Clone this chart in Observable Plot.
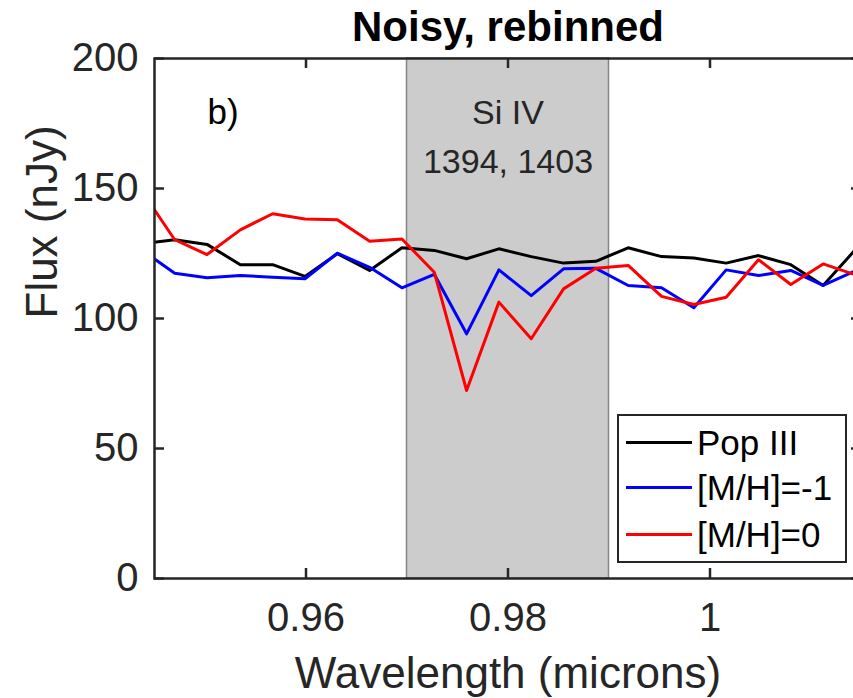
<!DOCTYPE html>
<html><head><meta charset="utf-8">
<script src="https://cdn.jsdelivr.net/npm/d3@7"></script>
<script src="https://cdn.jsdelivr.net/npm/@observablehq/plot@0.6"></script>
<style>
html,body{margin:0;padding:0;background:#fff;overflow:hidden;}
#wrap{position:relative;width:853px;height:698px;overflow:hidden;}
#wrap svg{max-width:none !important;}
#legend{position:absolute;left:617px;top:414px;width:230px;height:149px;box-sizing:border-box;border:2.5px solid #262626;background:#fff;font-family:"Liberation Sans",Arial,sans-serif;font-size:35px;color:#000;}
.row{position:absolute;left:0;height:40px;width:100%;}
.sw{position:absolute;left:6.5px;top:18.5px;width:66px;height:3px;}
.lb{position:absolute;left:78px;top:0;line-height:40px;white-space:nowrap;}
</style></head><body><div id="wrap"></div>
<script>
// Wavelength bins (microns)
const wavelength = [0.9438, 0.9470, 0.9502, 0.9535, 0.9567, 0.9599, 0.9631, 0.9663, 0.9695, 0.9727, 0.9759, 0.9791, 0.9823, 0.9855, 0.9887, 0.9919, 0.9952, 0.9984, 1.0016, 1.0048, 1.0080, 1.0112, 1.0144];
// Flux (nJy)
const popIII   = [128.8, 130.3, 128.5, 120.7, 120.7, 116.2, 124.9, 118.5, 127.2, 126.2, 123.0, 126.8, 123.8, 121.3, 122.0, 127.2, 123.8, 123.3, 121.3, 124.2, 120.7, 112.7, 126.5];
const mhMinus1 = [126.2, 117.4, 115.7, 116.5, 115.9, 115.3, 125.1, 119.7, 111.8, 117.0, 94.1, 118.7, 108.8, 119.1, 119.3, 112.7, 111.8, 104.1, 118.7, 116.5, 118.5, 112.7, 118.4];
const mh0      = [148.7, 130.3, 124.6, 134.1, 140.3, 138.3, 138.0, 129.7, 130.6, 117.8, 72.3, 106.3, 92.2, 111.4, 119.3, 120.4, 108.5, 105.4, 108.2, 122.6, 113.1, 121.0, 116.8];
const seriesNames  = ["Pop III", "[M/H]=-1", "[M/H]=0"];
const seriesColors = ["#000000", "#0000ff", "#ff0000"];
const seriesValues = [popIII, mhMinus1, mh0];
const xTicks = [0.96, 0.98, 1];
const yTicks = [0, 50, 100, 150, 200];
const band = [{x1: 0.97, x2: 0.99}];
const bandLabels = ["Si IV", "1394, 1403"];

const rows = seriesNames.flatMap((s, k) => wavelength.map((w, i) => ({s, w, v: seriesValues[k][i]})));

const W = 862, H = 698, mL = 154, mR = 1, mT = 58, mB = 120;
const fw = W - mL - mR, fh = H - mT - mB;
const axisCol = "#262626";

const chart = Plot.plot({
  width: W, height: H,
  marginLeft: mL, marginRight: mR, marginTop: mT, marginBottom: mB,
  style: {fontFamily: "'Liberation Sans', Arial, sans-serif", background: "#fff", overflow: "visible", maxWidth: "none"},
  x: {domain: [0.945, 1.015]},
  y: {domain: [0, 200]},
  color: {domain: seriesNames, range: seriesColors},
  marks: [
    Plot.rect(band, {x1: "x1", x2: "x2", fill: "#cccccc", stroke: "#858585", strokeWidth: 1.5}),
    Plot.line(rows, {x: "w", y: "v", z: "s", stroke: "s", strokeWidth: 3, clip: true}),
    Plot.frame({stroke: axisCol, strokeWidth: 2.5}),
    Plot.tickY(yTicks, {y: d => d, insetRight: fw - 10, stroke: axisCol, strokeWidth: 2.5}),
    Plot.tickY(yTicks, {y: d => d, insetLeft: fw - 10, stroke: axisCol, strokeWidth: 2.5}),
    Plot.tickX(xTicks, {x: d => d, insetTop: fh - 10, stroke: axisCol, strokeWidth: 2.5}),
    Plot.tickX(xTicks, {x: d => d, insetBottom: fh - 10, stroke: axisCol, strokeWidth: 2.5}),
    Plot.axisY({ticks: yTicks, tickSize: 0, tickPadding: 16, fontSize: 40, fill: axisCol, label: null}),
    Plot.axisX({ticks: xTicks, tickFormat: d => String(d), tickSize: 0, tickPadding: 24, fontSize: 40, fill: axisCol, label: null}),
    Plot.text(["Flux (nJy)"], {frameAnchor: "left", rotate: -90, dx: -129, lineAnchor: "top", fontSize: 44, fill: axisCol}),
    Plot.text(["Wavelength (microns)"], {frameAnchor: "bottom", lineAnchor: "bottom", dy: 109, fontSize: 44, fill: axisCol}),
    Plot.text(["Noisy, rebinned"], {frameAnchor: "top", lineAnchor: "bottom", dy: -18, fontSize: 42, fontWeight: "bold", fill: "#000"}),
    Plot.text(["b)"], {frameAnchor: "top-left", textAnchor: "start", lineAnchor: "bottom", dx: 53, dy: 65, fontSize: 35, fill: "#000"}),
    Plot.text([bandLabels[0]], {x: (band[0].x1 + band[0].x2) / 2, frameAnchor: "top", lineAnchor: "bottom", dy: 65, fontSize: 34, fill: "#262626"}),
    Plot.text([bandLabels[1]], {x: (band[0].x1 + band[0].x2) / 2, frameAnchor: "top", lineAnchor: "bottom", dy: 114, fontSize: 34, fill: "#262626"})
  ]
});
const wrap = document.getElementById("wrap");
wrap.appendChild(chart);

const legend = document.createElement("div");
legend.id = "legend";
const rowCenters = [29, 74, 121];
seriesNames.forEach((name, i) => {
  const r = document.createElement("div");
  r.className = "row";
  r.style.top = (rowCenters[i] - 2.5 - 20) + "px";
  const sw = document.createElement("div");
  sw.className = "sw";
  sw.style.background = seriesColors[i];
  const lb = document.createElement("div");
  lb.className = "lb";
  lb.textContent = name;
  r.appendChild(sw); r.appendChild(lb);
  legend.appendChild(r);
});
wrap.appendChild(legend);
</script></body></html>
